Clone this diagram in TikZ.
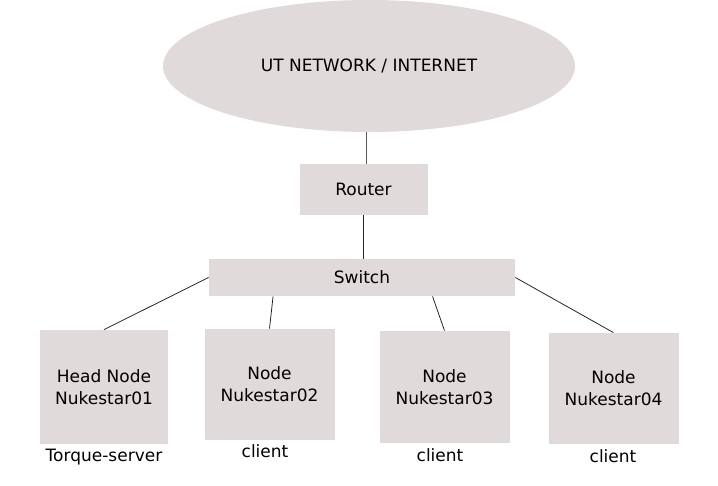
\documentclass[tikz,border=0pt]{standalone}
\usepackage{fontspec}
\setmainfont{DejaVu Sans}
\usetikzlibrary{shapes.geometric, positioning}
\definecolor{boxgray}{HTML}{E0DADA}
\def\boxw{130pt}

\begin{document}
\begin{tikzpicture}[x=1pt,y=-1pt,draw=black!85,line width=0.8pt,font=\fontsize{17}{22}\selectfont]
    \tikzstyle{cloud}=[ellipse,fill=boxgray,minimum width=412pt,minimum height=132pt,inner sep=0pt]
    \tikzstyle{box}=[rectangle,fill=boxgray,inner sep=0pt,align=center]
    \tikzstyle{machine}=[box,minimum width=\boxw,minimum height=112pt]
    \tikzstyle{role}=[inner sep=0pt]

    \useasboundingbox (0,0) rectangle (718,485);

    % Network, router and switch
    \node[cloud] (net) at (369,66) {UT NETWORK / INTERNET};
    \node[box,minimum width=128pt,minimum height=51pt] (router) at (363.5,189.5) {Router};
    \node[box,minimum width=306pt,minimum height=37pt] (sw) at (362,277.5) {Switch};

    % Cluster nodes
    \node[machine,minimum width=128pt,minimum height=114pt] (n1) at (104,387) {Head Node\\Nukestar01};
    \node[machine,minimum height=111pt] (n2) at (269.5,384.5) {Node\\Nukestar02};
    \node[machine] (n3) at (444.5,387) {Node\\Nukestar03};
    \node[machine,minimum height=111pt] (n4) at (613.5,388.5) {Node\\Nukestar04};

    % Roles
    \node[role] (r1) at (104,457) {Torque-server};
    \node[role] (r2) at (265,451) {client};
    \node[role] (r3) at (440,455) {client};
    \node[role] (r4) at (613,456) {client};

    \draw[draw=black!65] ([xshift=2.5pt]router.north) -- ([xshift=2.5pt]router.north |- net.south);
    \draw (router.south) -- (router.south |- sw.north);
    \draw (sw.west) -- (n1.north);
    \draw (sw.-168) -- (n2.north);
    \draw (sw.-15) -- (n3.north);
    \draw (sw.east) -- (n4.north);
\end{tikzpicture}
\end{document}
